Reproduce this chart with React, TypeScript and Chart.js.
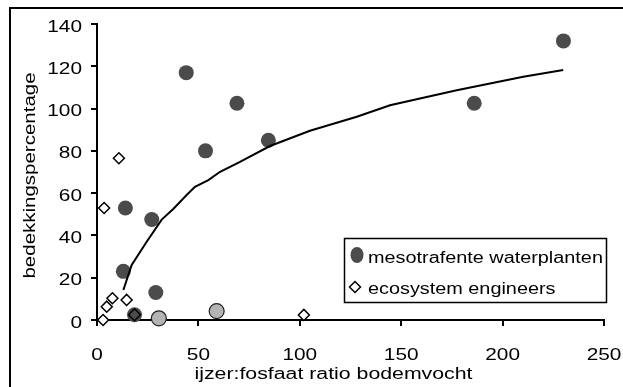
import React, { useEffect, useRef } from "react";
import { Chart, registerables } from "chart.js";

Chart.register(...registerables);

// ---- data ----
const xTicks = [0, 50, 100, 150, 200, 250];
const yTicks = [0, 20, 40, 60, 80, 100, 120, 140];
const xTitle = "ijzer:fosfaat ratio bodemvocht";
const yTitle = "bedekkingspercentage";
const seriesNames = ["mesotrafente waterplanten", "ecosystem engineers"];

const mesoX = [44, 69, 53.5, 84.5, 230, 186, 14, 27, 13, 29, 18.5];
const mesoY = [117, 102.5, 80, 85, 132, 102.5, 53, 47.5, 23, 13, 2.5];

const greyX = [30.5, 59];
const greyY = [0.8, 4.2];

const engX = [3, 4.8, 7.6, 14.6, 3.5, 10.8, 102];
const engY = [0, 6.3, 10.3, 9.5, 53, 76.5, 2.4];

const overlapX = [18.5];
const overlapY = [2.5];

const trendX = [13, 17.1, 24.5, 31.9, 37.6, 44.2, 48.3, 54.9, 60.7, 70.5, 85.3, 105, 128.1, 144.5, 160.9, 177.4, 193.8, 210.2, 229.9];
const trendY = [14.2, 26, 37, 47.5, 52.5, 59.1, 63, 66.2, 70.1, 74.8, 82.3, 89.5, 96.1, 101.6, 105.1, 108.7, 111.9, 115, 118.2];

const pts = (xs: number[], ys: number[]) => xs.map((x, i) => ({ x, y: ys[i] }));

const FONT = "16px 'Liberation Sans', Arial, sans-serif";
const DARK = "#4b4b4b";
const LIGHT = "#b4b4b4";

function stretchText(
  ctx: CanvasRenderingContext2D,
  text: string,
  x: number,
  y: number,
  sx: number,
  align: CanvasTextAlign,
  rot = 0
) {
  ctx.save();
  ctx.translate(x, y);
  if (rot) ctx.rotate(rot);
  ctx.scale(sx, 1);
  ctx.textAlign = align;
  ctx.textBaseline = "alphabetic";
  ctx.fillText(text, 0, 0);
  ctx.restore();
}

const decorPlugin = {
  id: "decor",
  afterDraw(chart: any) {
    const ctx: CanvasRenderingContext2D = chart.ctx;
    const xs = chart.scales.x;
    const ys = chart.scales.y;
    ctx.save();
    // outer chart border (left + top)
    ctx.strokeStyle = "#000";
    ctx.lineWidth = 2;
    ctx.beginPath();
    ctx.moveTo(10, 400);
    ctx.lineTo(10, 8);
    ctx.lineTo(640, 8);
    ctx.stroke();

    ctx.fillStyle = "#000";
    ctx.font = FONT;
    // y tick labels
    yTicks.forEach((v) => {
      stretchText(ctx, String(v), 82, ys.getPixelForValue(v) + 7.5, 1.3, "right");
    });
    // x tick labels
    xTicks.forEach((v) => {
      stretchText(ctx, String(v), xs.getPixelForValue(v), 360, 1.3, "center");
    });
    // axis titles
    stretchText(ctx, xTitle, 333.5, 379, 1.33, "center");
    stretchText(ctx, yTitle, 34.5, 175.5, 1.28, "center", -Math.PI / 2);

    // legend
    ctx.fillStyle = "#fff";
    ctx.fillRect(344.5, 238.5, 262, 64);
    ctx.strokeStyle = "#000";
    ctx.lineWidth = 1.5;
    ctx.strokeRect(344.5, 238.5, 262, 64);
    ctx.fillStyle = DARK;
    ctx.beginPath();
    ctx.ellipse(357, 255, 6.5, 8, 0, 0, Math.PI * 2);
    ctx.fill();
    ctx.fillStyle = "#fff";
    ctx.strokeStyle = "#000";
    ctx.lineWidth = 1.5;
    ctx.beginPath();
    ctx.moveTo(355 - 5.5, 287);
    ctx.lineTo(355, 287 - 5.5);
    ctx.lineTo(355 + 5.5, 287);
    ctx.lineTo(355, 287 + 5.5);
    ctx.closePath();
    ctx.fill();
    ctx.stroke();
    ctx.fillStyle = "#000";
    stretchText(ctx, seriesNames[0], 368, 263, 1.24, "left");
    stretchText(ctx, seriesNames[1], 368, 294, 1.24, "left");
    ctx.restore();
  },
};

export default function App() {
  const ref = useRef<HTMLCanvasElement | null>(null);
  useEffect(() => {
    document.body.style.margin = "0";
    const canvas = ref.current;
    if (!canvas) return;
    const chart = new Chart(canvas, {
      type: "scatter",
      data: {
        datasets: [
          {
            label: "trend",
            data: pts(trendX, trendY),
            showLine: true,
            borderColor: "#000",
            borderWidth: 2,
            pointRadius: 0,
            tension: 0,
            fill: false,
            order: 0,
            clip: false,
          } as any,
          {
            label: "overlap",
            data: pts(overlapX, overlapY),
            pointStyle: "rectRot",
            pointRadius: 6,
            backgroundColor: DARK,
            borderColor: "#000",
            borderWidth: 1.5,
            order: 1,
            clip: false,
          },
          {
            label: seriesNames[0],
            data: pts(mesoX, mesoY),
            pointStyle: "circle",
            pointRadius: 7.5,
            backgroundColor: DARK,
            borderColor: DARK,
            borderWidth: 0,
            order: 2,
            clip: false,
          },
          {
            label: "grey",
            data: pts(greyX, greyY),
            pointStyle: "circle",
            pointRadius: 7.5,
            backgroundColor: LIGHT,
            borderColor: "#222",
            borderWidth: 1.2,
            order: 3,
            clip: false,
          },
          {
            label: seriesNames[1],
            data: pts(engX, engY),
            pointStyle: "rectRot",
            pointRadius: 5.5,
            backgroundColor: "#fff",
            borderColor: "#000",
            borderWidth: 1.5,
            order: 4,
            clip: false,
          },
        ],
      },
      options: {
        responsive: false,
        animation: false,
        devicePixelRatio: 1,
        layout: { padding: { left: 0, top: 24, right: 19, bottom: 0 } },
        plugins: { legend: { display: false }, tooltip: { enabled: false } },
        scales: {
          x: {
            type: "linear",
            min: 0,
            max: 250,
            ticks: { stepSize: 50, display: false },
            grid: {
              drawOnChartArea: false,
              drawTicks: true,
              tickLength: 6,
              color: "#000",
              lineWidth: 2,
            },
            border: { display: true, color: "#000", width: 2 },
            afterFit: (s: any) => {
              s.height = 67;
            },
          },
          y: {
            type: "linear",
            min: 0,
            max: 140,
            ticks: { stepSize: 20, display: false },
            grid: {
              drawOnChartArea: false,
              drawTicks: true,
              tickLength: 6,
              color: "#000",
              lineWidth: 2,
            },
            border: { display: true, color: "#000", width: 2 },
            afterFit: (s: any) => {
              s.width = 97;
            },
          },
        },
      },
      plugins: [decorPlugin],
    });
    return () => chart.destroy();
  }, []);
  return (
    <div style={{ position: "absolute", left: 0, top: 0, width: 623, height: 387 }}>
      <canvas ref={ref} width={623} height={387} />
    </div>
  );
}
